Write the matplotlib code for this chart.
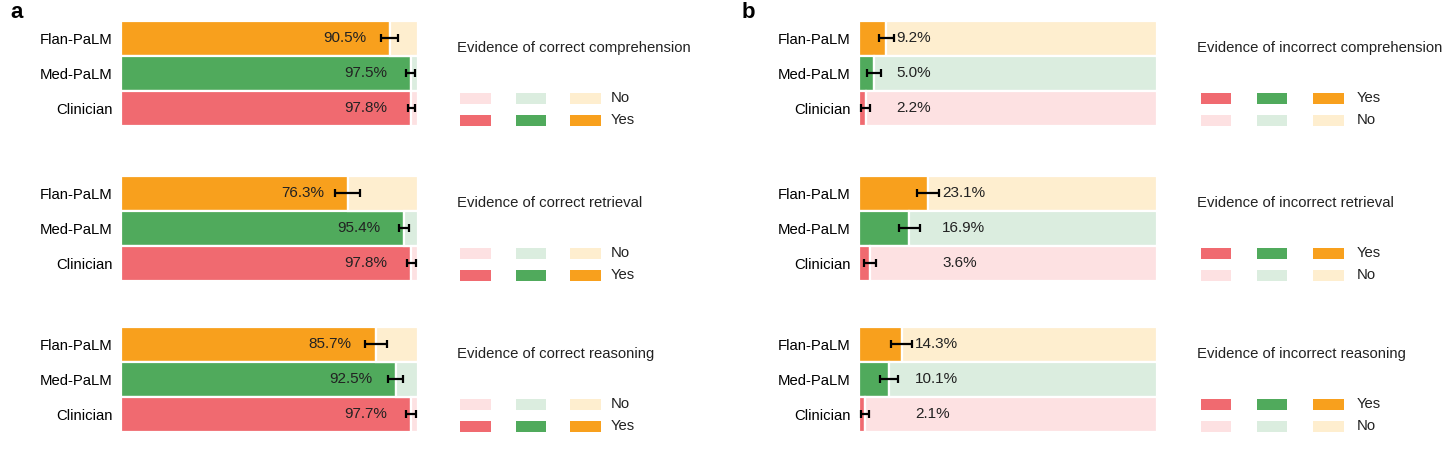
import matplotlib
matplotlib.use("Agg")
import matplotlib.pyplot as plt
from matplotlib.patches import Rectangle

plt.rcParams['font.family'] = ['Liberation Sans', 'DejaVu Sans']

models = ["Flan-PaLM", "Med-PaLM", "Clinician"]

correct_titles = ["Evidence of correct comprehension",
                  "Evidence of correct retrieval",
                  "Evidence of correct reasoning"]
correct_vals = [[90.5, 97.5, 97.8],
                [76.3, 95.4, 97.8],
                [85.7, 92.5, 97.7]]
correct_errs = [[2.8, 1.4, 1.3],
                [4.1, 1.7, 1.4],
                [3.7, 2.5, 1.6]]

incorrect_titles = ["Evidence of incorrect comprehension",
                    "Evidence of incorrect retrieval",
                    "Evidence of incorrect reasoning"]
incorrect_vals = [[9.2, 5.0, 2.2],
                  [23.1, 16.9, 3.6],
                  [14.3, 10.1, 2.1]]
incorrect_errs = [[2.4, 2.3, 1.5],
                  [3.8, 3.6, 2.0],
                  [3.6, 3.0, 1.3]]

solid = ["#F8A01D", "#50AA5C", "#F06A70"]   # Flan, Med, Clinician
light = ["#FEEECF", "#DBEDDF", "#FDE1E2"]

W, H = 1448, 449
fig = plt.figure(figsize=(W / 100, H / 100), dpi=100)

# overlay axes in pixel coordinates for legend keys and panel letters
ov = fig.add_axes([0, 0, 1, 1])
ov.set_xlim(0, W)
ov.set_ylim(H, 0)
ov.axis('off')

def px_axes(x0, x1, y0, y1):
    return fig.add_axes([x0 / W, 1 - y1 / H, (x1 - x0) / W, (y1 - y0) / H])

group_tops = [20.7, 175.7, 326.7]
grp_h = 105
FS = 10.7
FSV = 11

def draw_panel(x0, x1, titles, vals, errs, inside, leg_x, title_x, label_x, order_yes_first):
    for g in range(3):
        top = group_tops[g]
        ax = px_axes(x0, x1, top, top + grp_h)
        ypos = list(range(len(models)))
        v = vals[g]
        e = errs[g]
        ax.barh(ypos, v, height=1.0, color=solid, edgecolor='white', linewidth=1.6)
        ax.barh(ypos, [100 - x for x in v], left=v, height=1.0, color=light,
                edgecolor='white', linewidth=1.6)
        ax.errorbar(v, ypos, xerr=e, fmt='none', ecolor='black', elinewidth=1.6,
                    capsize=3, capthick=1.6, zorder=5)
        if inside:
            for yi, val in zip(ypos, v):
                ax.text(val - 8, yi, f"{val}%", ha='right', va='center', fontsize=FSV,
                        color='#222222')
        else:
            tx = max(a + b for a, b in zip(v, e)) + 1.0
            for yi, val in zip(ypos, v):
                ax.text(tx, yi, f"{val:.1f}%", ha='left', va='center', fontsize=FSV,
                        color='#222222')
        ax.set_xlim(0, 100)
        ax.set_ylim(2.5, -0.5)
        ax.set_yticks(ypos)
        ax.set_yticklabels(models, fontsize=FS)
        ax.set_xticks([])
        ax.tick_params(axis='y', length=0, pad=6)
        for s in ax.spines.values():
            s.set_visible(False)

        # title of legend block
        ov.text(title_x, top + 27.5, titles[g], ha='left', va='center', fontsize=FS,
                color='#222222')
        # legend keys
        rows = [top + 72, top + 94]
        for i in range(3):
            ci = 2 - i  # colour order: red, green, orange
            if order_yes_first:
                cols = [solid[ci], light[ci]]
            else:
                cols = [light[ci], solid[ci]]
            for r, c in zip(rows, cols):
                ov.add_patch(Rectangle((leg_x[i], r), 30.5, 11.5, facecolor=c,
                                       edgecolor='none'))
        labs = ["Yes", "No"] if order_yes_first else ["No", "Yes"]
        for r, lab in zip(rows, labs):
            ov.text(label_x, r + 5.5, lab, ha='left', va='center', fontsize=FS,
                    color='#222222')

draw_panel(121, 418, correct_titles, correct_vals, correct_errs, True,
           [460, 515.5, 570], 457, 611, False)
draw_panel(859, 1157, incorrect_titles, incorrect_vals, incorrect_errs, False,
           [1200.5, 1256.5, 1313], 1197, 1357, True)

ov.text(10, 13, "a", fontsize=16, fontweight='heavy', ha='left', va='center')
ov.text(742, 13, "b", fontsize=16, fontweight='heavy', ha='left', va='center')

fig.savefig("out.png", dpi=100)
